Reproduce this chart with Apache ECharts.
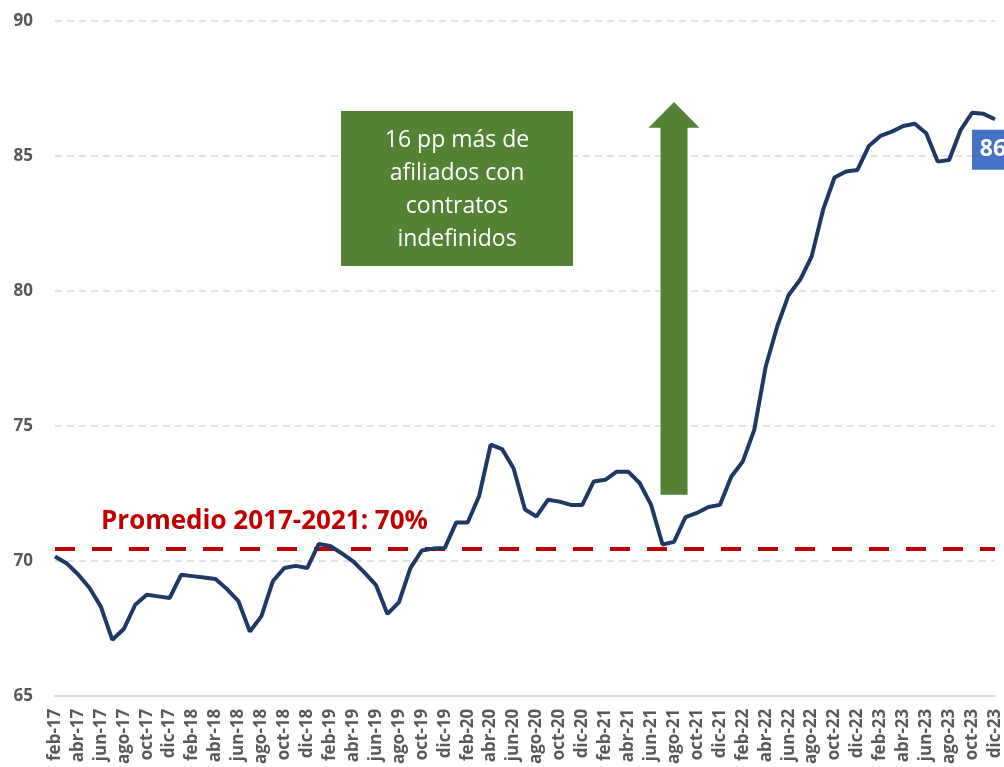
<!DOCTYPE html>
<html><head><meta charset="utf-8">
<script src="https://cdn.jsdelivr.net/npm/echarts@6/dist/echarts.min.js"></script>
<style>html,body{margin:0;padding:0;background:#fff}#c{width:1004px;height:767px}</style>
</head><body><div id="c"></div>
<script>
const categories = [
 'feb-17','mar-17','abr-17','may-17','jun-17','jul-17','ago-17','sep-17','oct-17','nov-17','dic-17',
 'ene-18','feb-18','mar-18','abr-18','may-18','jun-18','jul-18','ago-18','sep-18','oct-18','nov-18','dic-18',
 'ene-19','feb-19','mar-19','abr-19','may-19','jun-19','jul-19','ago-19','sep-19','oct-19','nov-19','dic-19',
 'ene-20','feb-20','mar-20','abr-20','may-20','jun-20','jul-20','ago-20','sep-20','oct-20','nov-20','dic-20',
 'ene-21','feb-21','mar-21','abr-21','may-21','jun-21','jul-21','ago-21','sep-21','oct-21','nov-21','dic-21',
 'ene-22','feb-22','mar-22','abr-22','may-22','jun-22','jul-22','ago-22','sep-22','oct-22','nov-22','dic-22',
 'ene-23','feb-23','mar-23','abr-23','may-23','jun-23','jul-23','ago-23','sep-23','oct-23','nov-23','dic-23'
];
const values = [
 70.16, 69.91, 69.50, 69.00, 68.30, 67.07, 67.47, 68.37, 68.74, 68.68, 68.62,
 69.48, 69.43, 69.38, 69.32, 68.95, 68.50, 67.38, 67.94, 69.24, 69.73, 69.81, 69.73,
 70.62, 70.55, 70.28, 69.98, 69.56, 69.10, 68.03, 68.46, 69.73, 70.38, 70.45, 70.47,
 71.42, 71.42, 72.40, 74.30, 74.14, 73.43, 71.90, 71.64, 72.26, 72.19, 72.07, 72.07,
 72.94, 73.00, 73.30, 73.30, 72.88, 72.07, 70.60, 70.70, 71.62, 71.77, 71.99, 72.07,
 73.12, 73.68, 74.85, 77.20, 78.68, 79.85, 80.41, 81.27, 83.00, 84.20, 84.42, 84.48,
 85.37, 85.74, 85.90, 86.11, 86.19, 85.84, 84.79, 84.85, 85.96, 86.60, 86.56, 86.36
];
const averageValue = 70.46;
const averageLabel = 'Promedio 2017-2021: 70%';
const boxLines = ['16 pp más de', 'afiliados con', 'contratos', 'indefinidos'];
const yMin = 65, yMax = 90, yInterval = 5;
const arrowCategory = 'ago-21';
const arrowFrom = 72.45, arrowHeadBase = 86.04, arrowTo = 87.0;

const chart = echarts.init(document.getElementById('c'), null, {renderer: 'canvas'});
const lastIdx = values.length - 1;
const option = {
  animation: false,
  grid: {left: 55, right: 9, top: 21, bottom: 71, containLabel: false},
  xAxis: {
    type: 'category', data: categories, boundaryGap: false,
    axisLine: {lineStyle: {color: '#d9d9d9', width: 1.5}},
    axisTick: {show: false},
    axisLabel: {interval: 1, rotate: 90, margin: 13, color: '#595959', fontWeight: 'bold',
      fontSize: 17, fontFamily: 'Open Sans'},
    splitLine: {show: false}
  },
  yAxis: {
    type: 'value', min: yMin, max: yMax, interval: yInterval,
    axisLine: {show: false}, axisTick: {show: false},
    axisLabel: {margin: 22, color: '#595959', fontWeight: 'bold', fontSize: 17, fontFamily: 'Open Sans'},
    splitLine: {lineStyle: {color: '#d9d9d9', type: [7, 5], width: 1.5}}
  },
  series: [{
    type: 'line', data: values, symbol: 'none', smooth: false, z: 3,
    lineStyle: {color: '#1f3864', width: 4},
    markLine: {
      silent: true, symbol: 'none', z: 2,
      lineStyle: {color: '#c00000', width: 4, type: [20, 17]},
      label: {show: false},
      data: [{yAxis: averageValue}]
    },
    markPoint: {
      silent: true,
      data: [{coord: [categories[lastIdx], values[lastIdx]], value: Math.round(values[lastIdx])}],
      symbol: 'rect', symbolSize: [42, 40], symbolOffset: [-2, 30.5],
      itemStyle: {color: '#4472c4'},
      label: {show: true, position: 'inside', color: '#fff', fontWeight: 'bold', fontSize: 23,
        fontFamily: 'Open Sans', offset: [0, 0]}
    }
  }]
};
chart.setOption(option);

const xA = chart.convertToPixel({gridIndex: 0}, [arrowCategory, arrowTo]);
const yBottom = chart.convertToPixel({gridIndex: 0}, [arrowCategory, arrowFrom])[1];
const yBase = chart.convertToPixel({gridIndex: 0}, [arrowCategory, arrowHeadBase])[1];
const ax = xA[0], yTip = xA[1];
const sw = 13.5, hw = 25.5;

chart.setOption({
  graphic: [
    {type: 'polygon', z: 10, shape: {points: [
      [ax - sw, yBottom], [ax - sw, yBase], [ax - hw, yBase], [ax, yTip],
      [ax + hw, yBase], [ax + sw, yBase], [ax + sw, yBottom]]},
      style: {fill: '#548235'}},
    {type: 'rect', z: 10, shape: {x: 341, y: 111, width: 232, height: 155}, style: {fill: '#548235'}},
    {type: 'text', z: 11, x: 457, y: 190, style: {text: boxLines.join('\n'), fill: '#ffffff',
      font: '23px "Open Sans"', align: 'center', verticalAlign: 'middle', lineHeight: 33}},
    {type: 'text', z: 11, x: 101, y: 522, style: {text: averageLabel, fill: '#c00000',
      font: 'bold 26px "Open Sans"', align: 'left', verticalAlign: 'middle'}}
  ]
});
</script></body></html>
